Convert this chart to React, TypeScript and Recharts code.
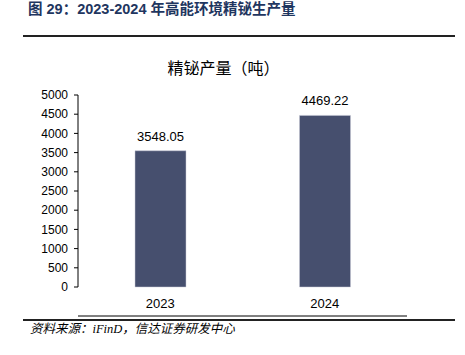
import React from "react";
import { BarChart, Bar, XAxis, YAxis, LabelList } from "recharts";

const years = ["2023", "2024"];
const output = [3548.05, 4469.22];
const yTicks = [0, 500, 1000, 1500, 2000, 2500, 3000, 3500, 4000, 4500, 5000];

const data = years.map((year, i) => ({ year, idx: i + 0.5, output: output[i] }));

const FONT = '"Liberation Sans", Arial, sans-serif';
const CJK = '"Noto Sans CJK SC", sans-serif';

export default function App() {
  return (
    <div
      style={{
        position: "absolute",
        left: 0,
        top: 0,
        width: 465,
        height: 355,
        background: "#fff",
        fontFamily: FONT,
      }}
    >
      <div
        style={{
          position: "absolute",
          left: 28,
          top: 0,
          fontSize: 14.5,
          lineHeight: "18px",
          fontWeight: 700,
          color: "#1f3660",
          fontFamily: `"Liberation Sans", ${CJK}`,
          whiteSpace: "nowrap",
        }}
      >
        图 29：2023-2024 年高能环境精铋生产量
      </div>
      <div
        style={{
          position: "absolute",
          left: 23,
          top: 35,
          width: 432,
          height: 2,
          background: "#222",
        }}
      />
      <div
        style={{
          position: "absolute",
          left: 0,
          width: 465,
          top: 55,
          textAlign: "center",
          fontSize: 16,
          fontFamily: CJK,
          color: "#000",
        }}
      >
        <span style={{ position: "relative", left: -9 }}>精铋产量（吨）</span>
      </div>
      <div style={{ position: "absolute", left: 0, top: 0 }}>
        <BarChart
          width={465}
          height={355}
          data={data}
          margin={{ top: 95, right: 58, bottom: 38, left: 28 }}
        >
          <XAxis
            xAxisId="edge"
            dataKey="idx"
            type="number"
            domain={[0, 2]}
            ticks={[0, 1, 2]}
            tick={false}
            tickSize={4}
            height={1}
            axisLine={{ stroke: "#000" }}
            tickLine={{ stroke: "#000" }}
          />
          <XAxis
            dataKey="year"
            axisLine={false}
            tickLine={false}
            tickMargin={6}
            height={29}
            tick={{ fontSize: 13, fill: "#000", fontFamily: FONT }}
          />
          <YAxis
            domain={[0, 5000]}
            ticks={yTicks}
            interval={0}
            width={50}
            tickSize={4}
            tickMargin={6}
            axisLine={{ stroke: "#000" }}
            tickLine={{ stroke: "#000" }}
            tick={{ fontSize: 12, fill: "#000", fontFamily: FONT }}
          />
          <Bar
            dataKey="output"
            fill="#464f6e"
            stroke="#c9cbd6"
            strokeWidth={0.5}
            barSize={51}
            isAnimationActive={false}
          >
            <LabelList
              dataKey="output"
              position="top"
              offset={10}
              formatter={(v: unknown) => Number(v).toFixed(2)}
              style={{ fontSize: 13, fill: "#000", fontFamily: FONT }}
            />
          </Bar>
        </BarChart>
      </div>
      <div
        style={{
          position: "absolute",
          left: 23,
          top: 319,
          width: 432,
          height: 2,
          background: "#222",
        }}
      />
      <div
        style={{
          position: "absolute",
          left: 30,
          top: 321,
          fontSize: 12.5,
          lineHeight: "17px",
          fontStyle: "italic",
          fontFamily: `"Liberation Serif", ${CJK}`,
          color: "#000",
          whiteSpace: "nowrap",
        }}
      >
        资料来源：iFinD，信达证券研发中心
      </div>
    </div>
  );
}
